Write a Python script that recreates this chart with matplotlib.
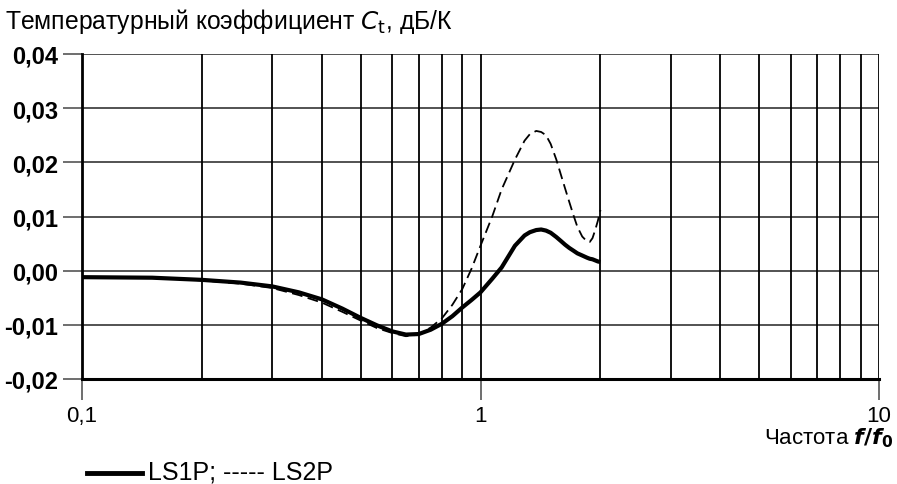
import matplotlib
matplotlib.use("Agg")
import matplotlib.pyplot as plt
from matplotlib.lines import Line2D

plt.rcParams['font.family'] = ['Liberation Sans', 'DejaVu Sans']

freq = [0.1, 0.15, 0.2, 0.25, 0.3, 0.35, 0.4, 0.45, 0.5, 0.55, 0.6, 0.65, 0.7, 0.75,
        0.8, 0.85, 0.9, 0.95, 1.0, 1.07, 1.13, 1.22, 1.29, 1.33, 1.38, 1.42, 1.46,
        1.5, 1.55, 1.59, 1.63, 1.67, 1.71, 1.75, 1.80, 1.85, 1.88, 1.91, 1.94, 1.97, 2.0]
ls1p = [-0.0012, -0.0013, -0.0017, -0.0022, -0.0029, -0.0040, -0.0053, -0.0070,
        -0.0087, -0.0101, -0.0112, -0.0118, -0.0117, -0.0109, -0.0098, -0.0084,
        -0.0068, -0.0054, -0.0040, -0.0015, 0.0006, 0.0046, 0.0065, 0.0071, 0.0075,
        0.0076, 0.0074, 0.0070, 0.0062, 0.0055, 0.0048, 0.0042, 0.0037, 0.0032,
        0.0028, 0.0024, 0.0022, 0.0021, 0.0019, 0.0017, 0.0016]
ls2p = [-0.0012, -0.0013, -0.0018, -0.0024, -0.0032, -0.0045, -0.0059, -0.0076,
        -0.0092, -0.0106, -0.0115, -0.0121, -0.0118, -0.0105, -0.0088, -0.0063,
        -0.0034, 0.0004, 0.0046, 0.0100, 0.0150, 0.0205, 0.0240, 0.0252, 0.0258,
        0.0256, 0.0250, 0.0234, 0.0205, 0.0178, 0.0152, 0.0127, 0.0103, 0.0081,
        0.0063, 0.0054, 0.0053, 0.0060, 0.0075, 0.0092, 0.0112]

yticks = [-0.02, -0.01, 0.00, 0.01, 0.02, 0.03, 0.04]
ytick_labels = ['-0,02', '-0,01', '0,00', '0,01', '0,02', '0,03', '0,04']
xticks = [0.1, 1, 10]
xtick_labels = ['0,1', '1', '10']
vgrid = [0.2, 0.3, 0.4, 0.5, 0.6, 0.7, 0.8, 0.9, 1, 2, 3, 4, 5, 6, 7, 8, 9, 10]

fig = plt.figure(figsize=(8.97, 4.85), dpi=100)
ax = fig.add_axes([82/897, 1-380/485, (879-82)/897, (380-55)/485])
ax.set_xscale('log')
ax.set_xlim(0.1, 10)
ax.set_ylim(-0.02, 0.04)

for y in yticks:
    ax.axhline(y, color='#444444', lw=1.3, zorder=1)
for x in vgrid:
    ax.axvline(x, color='black', lw=1.3, zorder=1)

ax.plot(freq, ls1p, color='black', lw=3.0, solid_capstyle='butt',
        solid_joinstyle='round', zorder=3)
ax.plot(freq, ls2p, color='black', lw=1.3, ls=(0, (6, 3)), zorder=3)

for s in ['top', 'right']:
    ax.spines[s].set_visible(False)
ax.spines['left'].set_linewidth(2.0)
ax.spines['bottom'].set_linewidth(2.2)

ax.set_yticks(yticks)
ax.set_yticklabels(ytick_labels, fontsize=17, fontweight='bold')
ax.set_xticks(xticks)
ax.set_xticklabels(xtick_labels, fontsize=16)
ax.minorticks_off()
ax.tick_params(axis='y', length=14, width=1.2, color='#555555', pad=3)
ax.tick_params(axis='x', length=15, width=1.2, color='#555555', pad=4)

fig.text(5/897, 1-22/485, r'Температурный коэффициент $\mathit{C}_{\mathrm{t}}$, дБ/К',
         fontsize=17.8, ha='left', va='center')
fig.text(893/897, 1-438/485, r'Частота $\boldsymbol{f/f}_{\mathbf{0}}$', fontsize=16,
         ha='right', va='center')

fig.add_artist(Line2D([87/897, 142/897], [1-474/485, 1-474/485], color='black', lw=3.5))
fig.text(148/897, 1-473/485, 'LS1P; ----- LS2P', fontsize=18,
         ha='left', va='center')

fig.savefig('out.png', dpi=100)
